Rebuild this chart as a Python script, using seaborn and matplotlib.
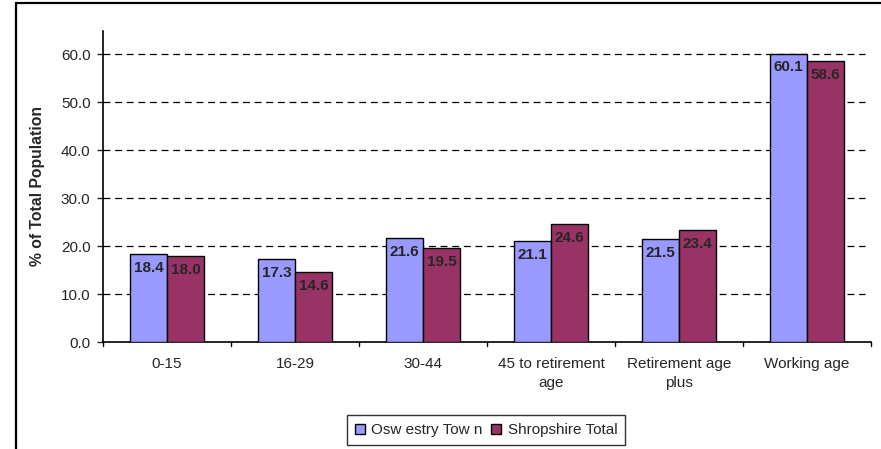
import matplotlib
matplotlib.use("Agg")
import matplotlib.pyplot as plt
from matplotlib.lines import Line2D
from matplotlib.patches import Patch
import seaborn as sns
import pandas as pd

categories = ["0-15", "16-29", "30-44", "45 to retirement\nage", "Retirement age\nplus", "Working age"]
series_names = ["Osw estry Tow n", "Shropshire Total"]
oswestry = [18.4, 17.3, 21.6, 21.1, 21.5, 60.1]
shropshire = [18.0, 14.6, 19.5, 24.6, 23.4, 58.6]
y_ticks = [0, 10, 20, 30, 40, 50, 60]
colors = ["#9999FF", "#993366"]

df = pd.DataFrame({
    "category": categories * 2,
    "series": [series_names[0]] * len(categories) + [series_names[1]] * len(categories),
    "value": oswestry + shropshire,
})

sns.set_style("white")
plt.rcParams["font.family"] = ["Liberation Sans", "DejaVu Sans"]

W, H = 881, 449
fig = plt.figure(figsize=(W / 100, H / 100), dpi=100)
ax = fig.add_axes([103 / W, 1 - 342 / H, (871 - 103) / W, (342 - 31) / H])

sns.barplot(data=df, x="category", y="value", hue="series", order=categories,
            hue_order=series_names, palette=colors, width=0.58, saturation=1,
            edgecolor="black", linewidth=1, legend=False, ax=ax, zorder=3)

# axis extends a little above the 60 gridline
ymax = 10 * (342 - 31) / 48
ax.set_ylim(0, ymax)
ax.set_xlim(-0.5, len(categories) - 0.5)
ax.set_yticks(y_ticks)
ax.set_yticklabels([f"{v:.1f}" for v in y_ticks], fontsize=11)
ax.set_xticks(range(len(categories)))
ax.set_xticklabels(categories, fontsize=11, linespacing=1.45)
ax.tick_params(axis="x", length=0, pad=11)
ax.tick_params(axis="y", length=4, width=1, direction="out", left=True, pad=5)

# category separator ticks on the x axis
for b in [i - 0.5 for i in range(len(categories) + 1)]:
    ax.plot([b, b], [0, -ymax * 0.013], color="black", lw=1, clip_on=False, zorder=4)

for v in y_ticks[1:]:
    ln = ax.axhline(v, color="black", lw=0.9, zorder=1, xmax=(865 - 103) / (871 - 103))
    ln.set_dashes((5.5, 3.8))

for s in ["top", "right"]:
    ax.spines[s].set_visible(False)
for s in ["left", "bottom"]:
    ax.spines[s].set_color("black")
    ax.spines[s].set_linewidth(1.2)
ax.set_xlabel("")
ax.set_ylabel("% of Total Population", fontsize=11.3, fontweight="bold")
ax.yaxis.set_label_coords(-(103 - 45) / (871 - 103), (342 - 186) / (342 - 31))

for container in ax.containers:
    for bar in container:
        h = bar.get_height()
        ax.annotate(f"{h:.1f}", (bar.get_x() + bar.get_width() / 2, h),
                    xytext=(0, -5), textcoords="offset points",
                    ha="center", va="top", fontsize=11, fontweight="bold", zorder=5)

handles = [Patch(facecolor=c, edgecolor="black", linewidth=1) for c in colors]
leg = fig.legend(handles, series_names, loc="center", bbox_to_anchor=(486 / W, 1 - 430 / H),
                 ncol=2, frameon=True, fontsize=11, handlelength=0.65, handleheight=0.65,
                 handletextpad=0.4, columnspacing=0.6, borderpad=0.5, fancybox=False)
leg.get_frame().set_edgecolor("black")
leg.get_frame().set_linewidth(1)

# outer chart frame (left and top edges visible)
fig.add_artist(Line2D([16 / W, 16 / W], [0, 1 - 3 / H], color="black", lw=1.6,
                      transform=fig.transFigure))
fig.add_artist(Line2D([16 / W, 1], [1 - 3 / H, 1 - 3 / H], color="black", lw=1.6,
                      transform=fig.transFigure))

fig.savefig("out.png", dpi=100)
